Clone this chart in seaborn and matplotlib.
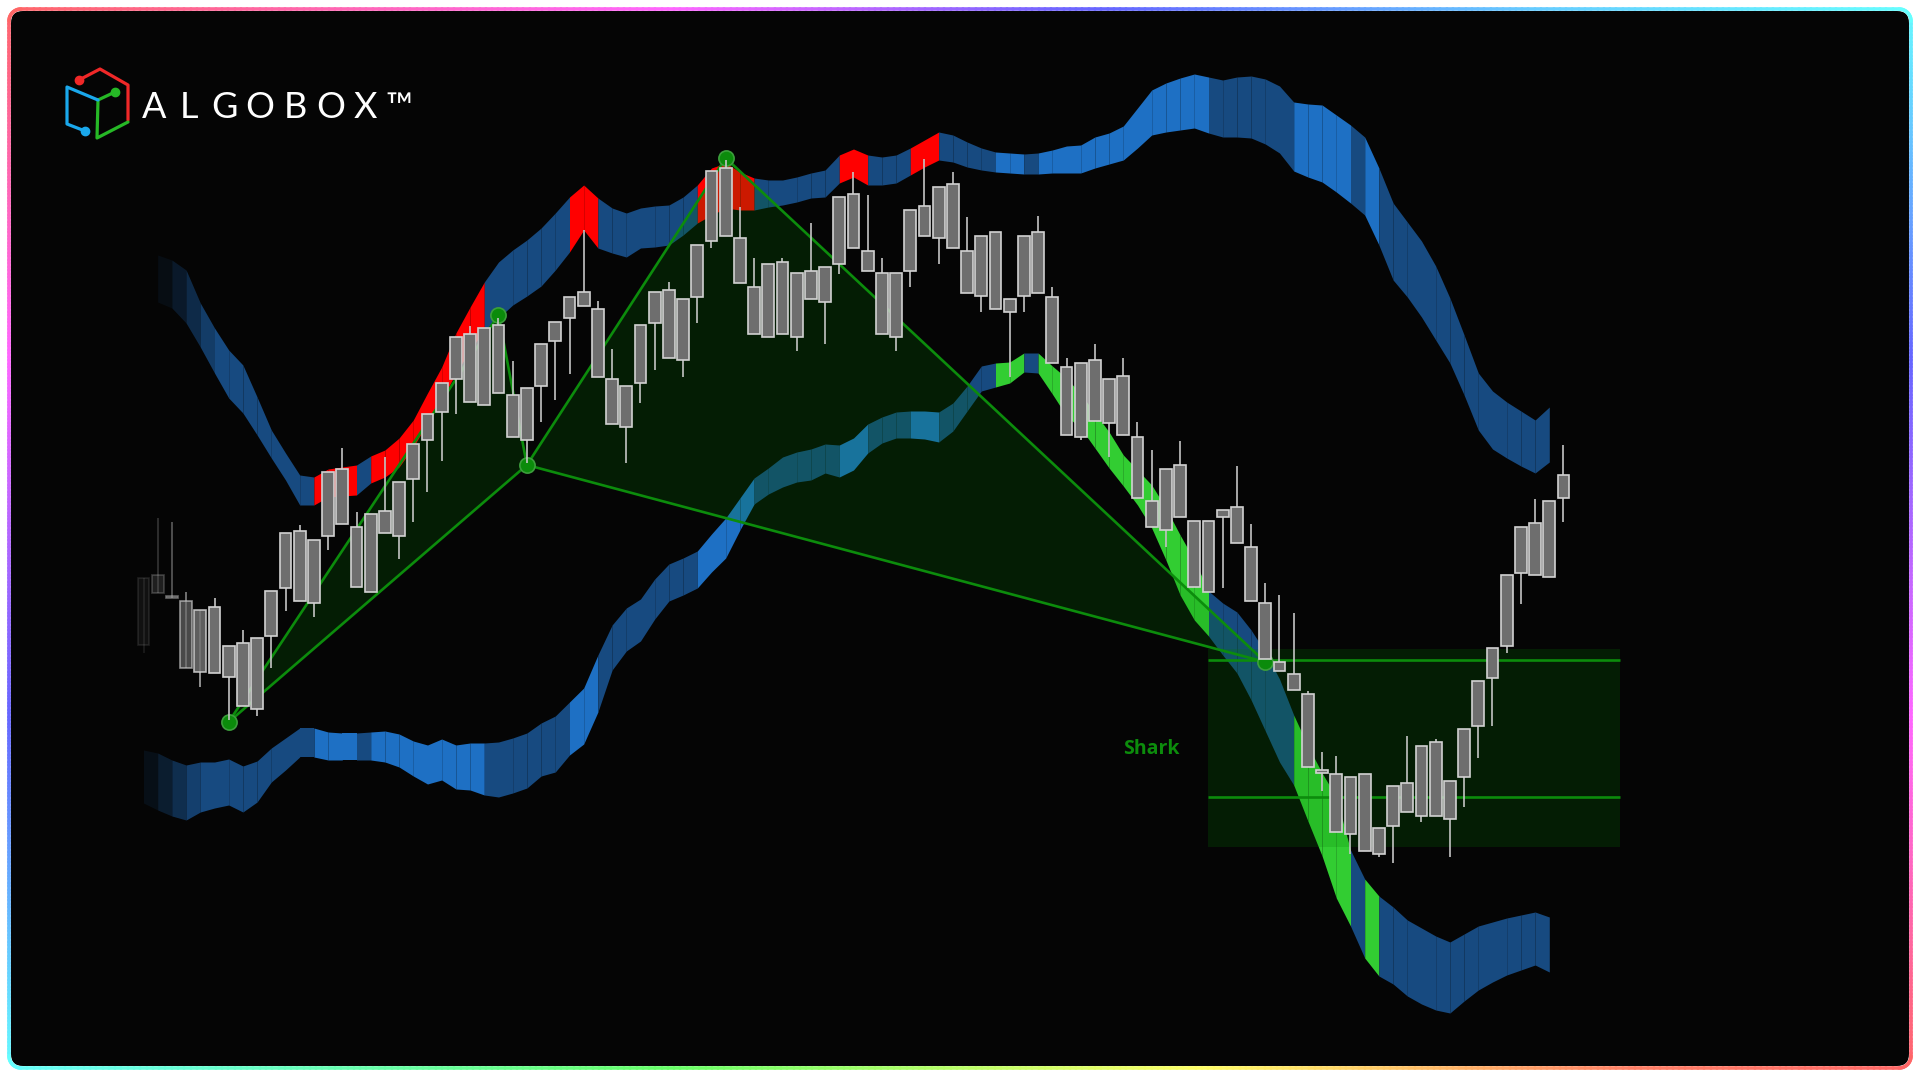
import numpy as np
import pandas as pd
import seaborn as sns
import matplotlib.pyplot as plt
from matplotlib.collections import LineCollection
from matplotlib.patches import FancyBboxPatch, Rectangle
from matplotlib.colors import hsv_to_rgb

# ---------------------------------------------------------
# Candles (price units), bar index 0..100
# ---------------------------------------------------------
body_top = [522, 525, 504, 499, 490, 493, 454, 457, 462, 509,
            567, 569, 560, 628, 631, 573, 586, 589, 618, 656,
            686, 717, 763, 766, 772, 775, 705, 712, 756, 778,
            803, 808, 791, 721, 714, 775, 808, 810, 801, 855,
            929, 932, 862, 813, 836, 838, 827, 829, 833, 903,
            906, 849, 827, 827, 890, 894, 913, 916, 849, 864,
            868, 801, 864, 868, 803, 733, 737, 740, 721, 724,
            663, 599, 631, 635, 579, 579, 590, 593, 553, 497,
            438, 426, 406, 330, 326, 323, 326, 272, 314, 317,
            354, 358, 319, 371, 419, 452, 525, 573, 577, 599,
            625]
body_bot = [455, 507, 502, 432, 428, 427, 423, 394, 391, 464,
            512, 499, 497, 564, 576, 513, 508, 567, 564, 621,
            660, 688, 721, 698, 695, 707, 663, 660, 714, 759,
            782, 794, 723, 676, 673, 717, 777, 742, 740, 803,
            859, 864, 817, 766, 763, 766, 763, 801, 798, 836,
            852, 829, 766, 763, 829, 864, 862, 852, 807, 804,
            791, 788, 804, 807, 737, 665, 663, 679, 677, 665,
            602, 573, 570, 583, 513, 508, 583, 557, 499, 441,
            429, 410, 333, 327, 268, 266, 249, 246, 274, 288,
            284, 284, 281, 323, 374, 422, 454, 527, 525, 523,
            602]
high = [522, 582, 578, 508, 490, 502, 454, 470, 462, 509,
        567, 575, 560, 628, 652, 588, 586, 643, 618, 656,
        686, 717, 763, 774, 772, 782, 739, 712, 756, 778,
        803, 870, 799, 751, 714, 775, 808, 818, 801, 855,
        929, 940, 893, 842, 836, 842, 827, 877, 833, 903,
        928, 905, 842, 827, 890, 941, 913, 928, 883, 864,
        868, 801, 864, 884, 813, 742, 737, 756, 721, 742,
        678, 650, 631, 659, 579, 579, 590, 634, 576, 517,
        505, 487, 409, 348, 344, 323, 326, 272, 314, 364,
        354, 361, 319, 371, 419, 452, 525, 573, 601, 599,
        655]
low = [447, 507, 502, 432, 413, 427, 380, 394, 384, 432,
       489, 499, 483, 550, 576, 513, 508, 567, 541, 578,
       608, 639, 686, 698, 695, 707, 663, 637, 678, 700,
       726, 794, 723, 676, 637, 697, 730, 742, 723, 777,
       852, 864, 817, 766, 763, 766, 749, 801, 756, 826,
       852, 829, 766, 749, 813, 864, 836, 852, 807, 788,
       791, 723, 788, 807, 737, 665, 660, 679, 643, 665,
       602, 573, 553, 583, 513, 508, 512, 557, 499, 441,
       429, 410, 333, 309, 268, 246, 249, 243, 237, 288,
       278, 284, 243, 293, 342, 374, 447, 496, 525, 523,
       578]

# ---------------------------------------------------------
# Upper band (bars 1..99) and lower band (bars 0..99)
# ---------------------------------------------------------
upper_top = [845, 840, 830, 797, 772, 750, 735, 703, 670, 647,
             625, 623, 631, 633, 635, 644, 650, 662, 680, 707,
             733, 767, 793, 818, 838, 850, 860, 872, 887, 903,
             915, 902, 892, 887, 892, 894, 895, 903, 915, 932,
             937, 928, 922, 920, 920, 923, 927, 930, 945, 951,
             945, 943, 945, 952, 960, 968, 965, 958, 952, 948,
             947, 946, 947, 950, 954, 955, 963, 967, 974, 992,
             1010, 1017, 1022, 1026, 1023, 1020, 1023, 1024, 1021, 1014,
             998, 996, 995, 985, 975, 963, 932, 897, 878, 859,
             834, 802, 765, 727, 709, 698, 689, 680, 693]
upper_bot = [798, 792, 777, 753, 727, 702, 687, 665, 642, 620,
             595, 595, 603, 604, 605, 617, 623, 633, 653, 677,
             700, 727, 750, 770, 782, 795, 804, 814, 830, 848,
             870, 852, 847, 843, 852, 853, 855, 865, 877, 885,
             892, 890, 890, 893, 895, 898, 902, 903, 917, 923,
             915, 915, 917, 925, 933, 940, 938, 933, 930, 928,
             927, 926, 926, 927, 927, 927, 932, 936, 940, 952,
             965, 968, 970, 972, 967, 963, 963, 962, 956, 947,
             929, 923, 918, 908, 897, 885, 855, 820, 803, 783,
             760, 737, 705, 670, 651, 642, 634, 627, 638]
lower_top = [350, 347, 340, 335, 338, 338, 341, 334, 339, 352,
             362, 372, 372, 368, 367, 367, 368, 369, 366, 359,
             355, 361, 355, 357, 357, 358, 362, 367, 377, 384,
             398, 412, 445, 475, 492, 501, 521, 536, 542, 549,
             566, 582, 602, 622, 632, 643, 648, 651, 656, 655,
             662, 676, 683, 688, 689, 689, 688, 697, 714, 734,
             737, 738, 747, 747, 734, 722, 706, 687, 668, 645,
             630, 615, 592, 565, 540, 509, 497, 488, 470, 448,
             421, 385, 354, 327, 303, 250, 221, 204, 193, 180,
             172, 164, 158, 166, 174, 178, 182, 185, 188, 183]
lower_bot = [297, 290, 284, 280, 288, 292, 295, 288, 298, 318,
             330, 343, 343, 340, 340, 340, 340, 338, 333, 324,
             316, 320, 311, 310, 305, 303, 307, 312, 324, 328,
             345, 356, 388, 430, 449, 459, 481, 499, 505, 512,
             528, 542, 570, 596, 606, 613, 618, 620, 627, 623,
             630, 647, 657, 662, 662, 661, 658, 669, 689, 709,
             713, 717, 728, 727, 706, 684, 672, 652, 632, 614,
             595, 572, 540, 505, 480, 464, 445, 427, 400, 369,
             338, 315, 279, 244, 202, 174, 142, 124, 116, 104,
             96, 90, 87, 99, 110, 118, 125, 130, 135, 128]

# band state per segment (bar i -> i+1): n = neutral, h = stretched up, c = stretched down
regime = ("nnnnnnnnnnnn" "hhh" "n" "hhhhhhhh" "nnnnnn" "hh" "nnnnnnn" "hhhh"
          "nnnnnn" "hh" "nnn" "hh" "nnnn" "cc" "n" "cccccccccccc" "nnnnnn"
          "cccc" "n" "c" "nnnnnnnnnnnn")

# harmonic pattern (Shark) points and completion zone
pattern_names = ["X", "A", "B", "C", "D"]
pattern_bar = [6, 25, 27, 41, 79]
pattern_price = [378, 785, 635, 942, 438]
zone_bars = (75, 104)
zone_prices = (253, 451)
zone_levels = [440, 303]

# ---------------------------------------------------------
# Figure
# ---------------------------------------------------------
sns.set_theme(style="dark")
plt.rcParams["font.family"] = ["Open Sans", "DejaVu Sans"]

W, H = 1920, 1077
fig = plt.figure(figsize=(W / 100, H / 100), dpi=100, facecolor="white")

# frame / background in pixel space
bg = fig.add_axes([0, 0, 1, 1], zorder=0)
bg.set_xlim(0, W)
bg.set_ylim(H, 0)
bg.axis("off")
bg.add_patch(FancyBboxPatch((11, 11), W - 22, H - 22,
                            boxstyle="round,pad=0,rounding_size=12",
                            fc="#050505", ec="none"))


def edge_hue(edge, t):
    if edge == "top":
        return np.interp(t, [0, .35, .55, .8, 1], [360, 300, 245, 200, 180])
    if edge == "bottom":
        return np.interp(t, [0, .35, .65, .85, 1], [180, 120, 55, 10, 0])
    if edge == "left":
        return np.interp(t, [0, .5, 1], [360, 270, 180])
    return np.interp(t, [0, .5, 1], [180, 270, 360])


L, R, T, B, rad = 9, W - 9, 9, H - 9, 12
segs, cols = [], []
n = 300
for edge in ["top", "right", "bottom", "left"]:
    ts = np.linspace(0, 1, n)
    for a, b in zip(ts[:-1], ts[1:]):
        if edge == "top":
            p = [(L + rad + a * (R - L - 2 * rad), T), (L + rad + b * (R - L - 2 * rad), T)]
            tm = (p[0][0] + p[1][0]) / 2 / W
        elif edge == "bottom":
            p = [(L + rad + a * (R - L - 2 * rad), B), (L + rad + b * (R - L - 2 * rad), B)]
            tm = (p[0][0] + p[1][0]) / 2 / W
        elif edge == "left":
            p = [(L, T + rad + a * (B - T - 2 * rad)), (L, T + rad + b * (B - T - 2 * rad))]
            tm = (p[0][1] + p[1][1]) / 2 / H
        else:
            p = [(R, T + rad + a * (B - T - 2 * rad)), (R, T + rad + b * (B - T - 2 * rad))]
            tm = (p[0][1] + p[1][1]) / 2 / H
        segs.append(p)
        cols.append(edge_hue(edge, tm))
# rounded corners
for cx, cy, a0, hue in [(L + rad, T + rad, 180, 360), (R - rad, T + rad, 270, 180),
                        (R - rad, B - rad, 0, 360), (L + rad, B - rad, 90, 180)]:
    ang = np.radians(np.linspace(a0, a0 + 90, 12))
    px = cx + rad * np.cos(ang)
    py = cy + rad * np.sin(ang)
    for k in range(len(ang) - 1):
        segs.append([(px[k], py[k]), (px[k + 1], py[k + 1])])
        cols.append(hue)
rgb = [hsv_to_rgb([(h % 360) / 360, 0.6, 1.0]) for h in cols]
bg.add_collection(LineCollection(segs, colors=rgb, linewidths=2.6, capstyle="round"))

# logo
logo = [("#f02828", [(79, 80), (100, 69), (128, 85), (128, 120)], (79, 80)),
        ("#26b826", [(115, 92), (98, 100), (97, 138), (128, 122)], (115, 92)),
        ("#1aa8ec", [(98, 100), (67, 87), (67, 124), (85, 131)], (85, 131))]
for c, path, dot in logo:
    xs, ys = zip(*path)
    bg.plot(xs, ys, color=c, lw=2.3, solid_capstyle="round", solid_joinstyle="round")
    bg.plot(*dot, "o", color=c, ms=6)
for k, ch in enumerate("ALGOBOX"):
    bg.text(154 + 35.3 * k, 118, ch, color="white", fontsize=26, family=["Lato", "DejaVu Sans"],
            fontweight="normal", ha="center", va="baseline")
bg.text(385, 118, "\u2122", color="white", fontsize=26, family=["Lato", "DejaVu Sans"],
        fontweight="normal", ha="left", va="baseline")

# ---------------------------------------------------------
# Price axes
# ---------------------------------------------------------
ax = fig.add_axes([0, 0, 1, 1], zorder=1)
ax.patch.set_alpha(0)
ax.axis("off")

DARK, LIGHT, RED, GREEN = "#174a80", "#1e70c4", "#ff0000", "#32cd32"
upper_col = {"n": DARK, "h": RED, "c": LIGHT}
lower_col = {"n": DARK, "h": LIGHT, "c": GREEN}


def draw_band(start, tops, bots, cmap, fade):
    for k in range(len(tops) - 1):
        i = start + k
        a = fade[k] if k < len(fade) else 1.0
        ax.fill_between([i, i + 1], [bots[k], bots[k + 1]], [tops[k], tops[k + 1]],
                        color=cmap[regime[i]], alpha=a, lw=0, zorder=2)


draw_band(1, upper_top, upper_bot, upper_col, [0.12, 0.3, 0.55, 0.8])
draw_band(0, lower_top, lower_bot, lower_col, [0.15, 0.35, 0.6, 0.85])

# pattern triangles
pts = pd.DataFrame({"point": pattern_names, "bar": pattern_bar, "price": pattern_price})
p = pts.set_index("point")
for tri in [("X", "A", "B"), ("B", "C", "D")]:
    ax.fill(p.loc[list(tri), "bar"], p.loc[list(tri), "price"], color="#008000",
            alpha=0.2, lw=0, zorder=3)

legs = [("X", "A"), ("A", "B"), ("B", "C"), ("C", "D"), ("X", "B"), ("B", "D")]
leg_rows = []
for k, (s, e) in enumerate(legs):
    for nm in (s, e):
        leg_rows.append({"leg": k, "bar": p.loc[nm, "bar"], "price": p.loc[nm, "price"]})
legs_df = pd.DataFrame(leg_rows)
sns.lineplot(data=legs_df, x="bar", y="price", units="leg", estimator=None, sort=False,
             color="#0c8c0c", lw=1.9, ax=ax, zorder=4, legend=False)
sns.scatterplot(data=pts, x="bar", y="price", s=120, color="#0b8b0b", edgecolor="#3c9e3c",
                linewidth=1.2, ax=ax, zorder=4.5, legend=False)

# completion zone
ax.add_patch(Rectangle((zone_bars[0], zone_prices[0]), zone_bars[1] - zone_bars[0],
                       zone_prices[1] - zone_prices[0], fc="#008000", alpha=0.2,
                       ec="none", zorder=3))
ax.hlines(zone_levels, zone_bars[0], zone_bars[1], color="#0c8c0c", lw=1.9, zorder=4)
ax.text(71, 351, "Shark", color="#0c8c0c", fontsize=14, fontweight="bold",
        ha="center", va="center", zorder=7)

# candles
bars = np.arange(len(body_top))
fade = np.ones(len(bars))
fade[:5] = [0.12, 0.25, 0.45, 0.65, 0.85]
for i in bars:
    ax.vlines(i, low[i], high[i], color="#c4c4c4", lw=1.2, alpha=fade[i], zorder=5)
    ax.bar(i, body_top[i] - body_bot[i], bottom=body_bot[i], width=0.84, color="#6e6e6e",
           edgecolor="#d2d2d2", linewidth=1.2, alpha=fade[i], zorder=6)

ax.set_xlim(-143.5 / 14.2, (W - 143.5) / 14.2)
ax.set_ylim(1100 - H, 1100)
ax.axis("off")

fig.savefig("out.png", dpi=100, facecolor="white")
